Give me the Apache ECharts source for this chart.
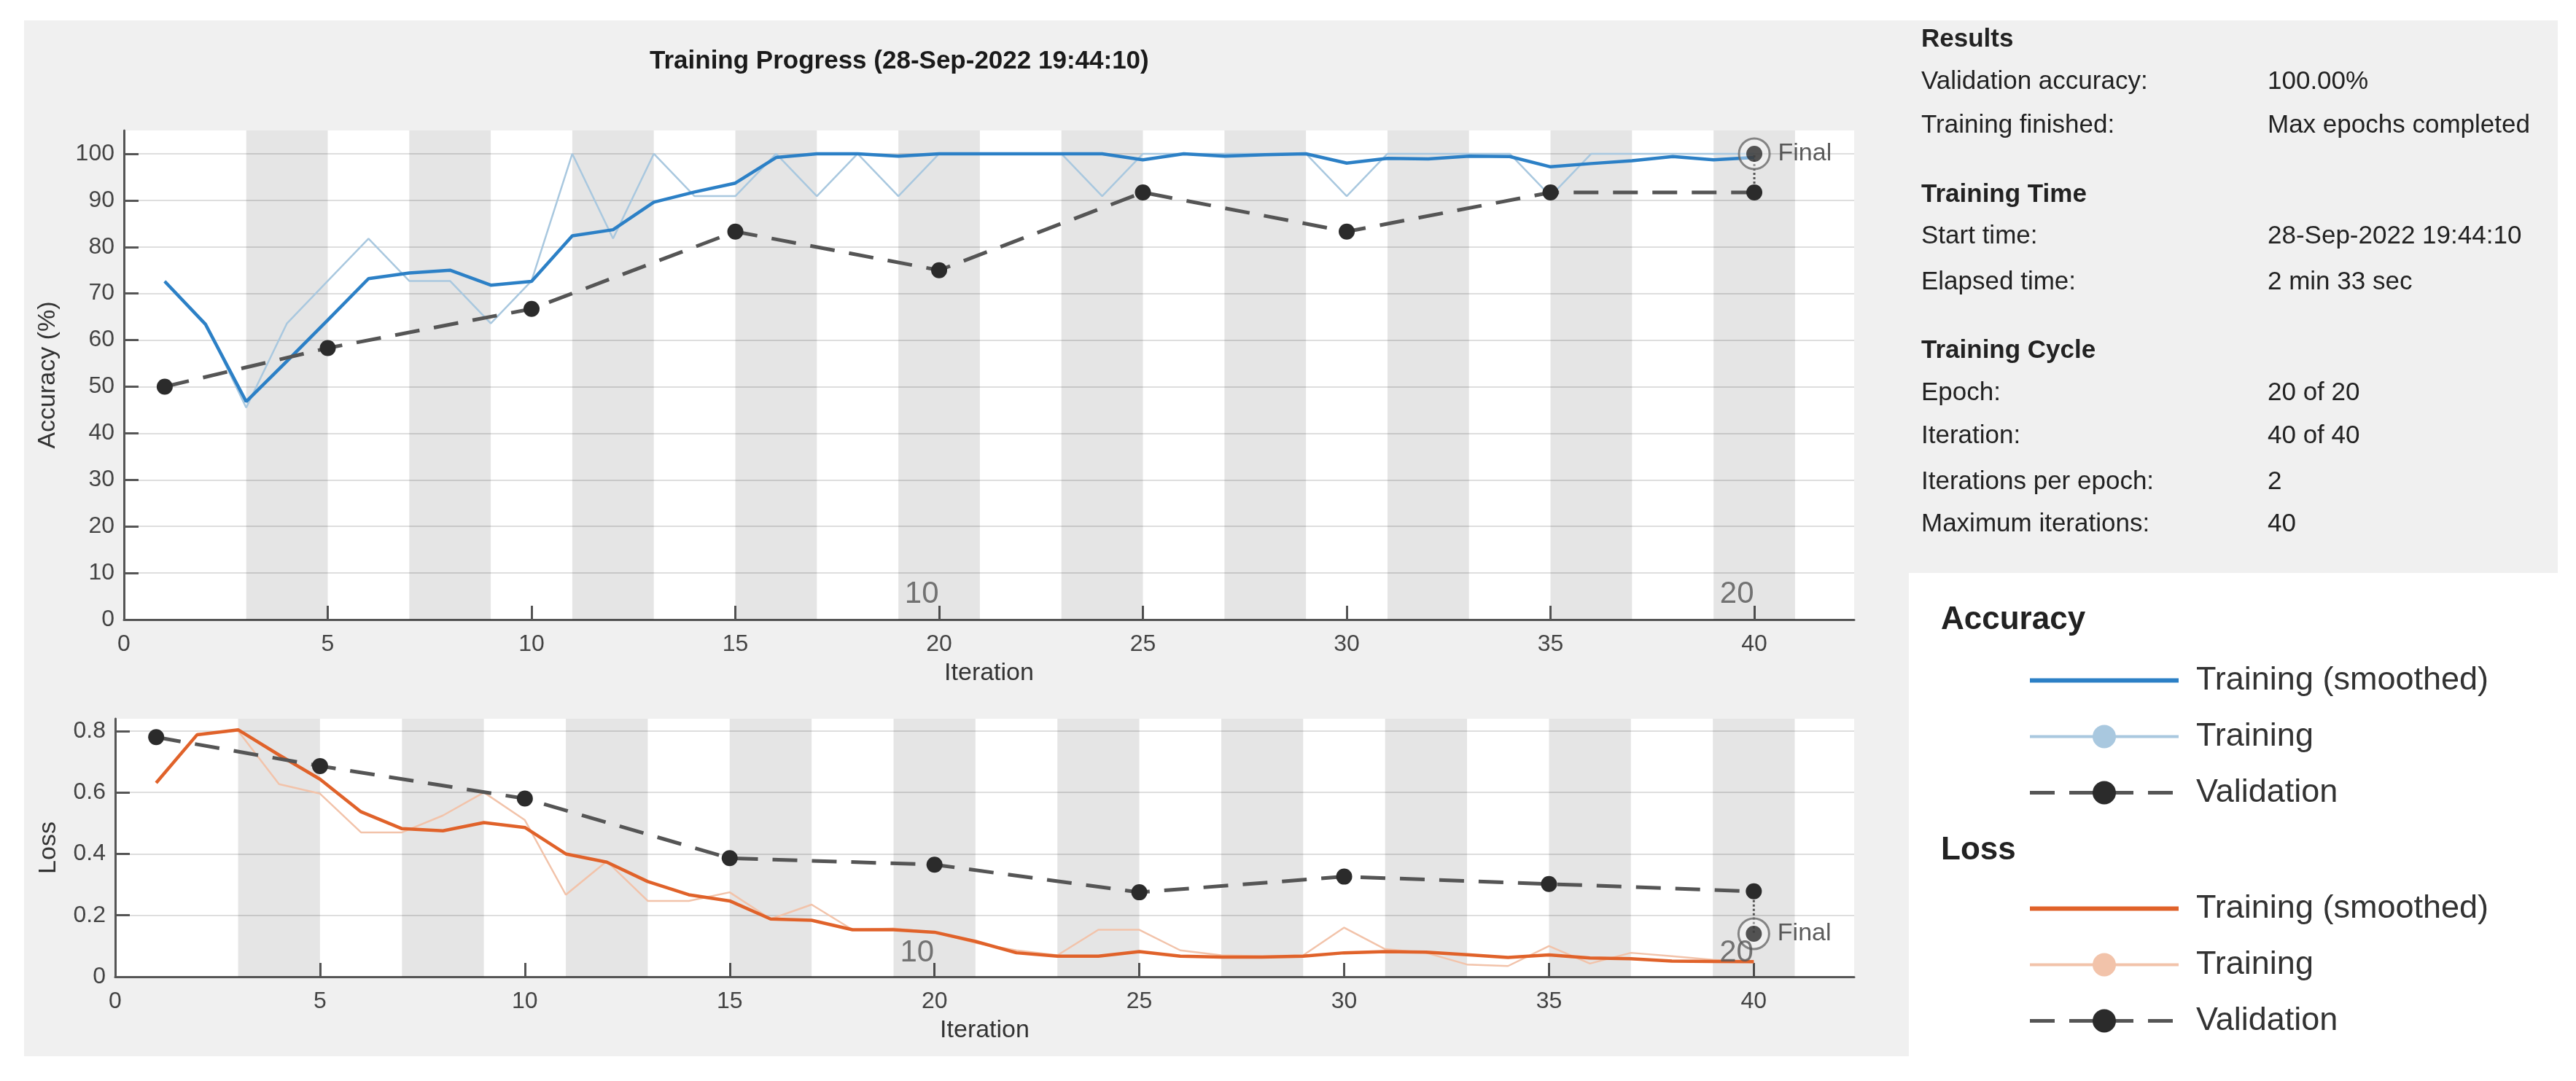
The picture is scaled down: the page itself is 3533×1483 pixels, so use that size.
<!DOCTYPE html>
<html>
<head>
<meta charset="utf-8">
<script src="https://cdn.jsdelivr.net/npm/echarts@6/dist/echarts.min.js"></script>
<style>
  html, body { margin: 0; padding: 0; background: #fff; }
  #chart { width: 3533px; height: 1483px; }
</style>
</head>
<body>
<div id="chart"></div>
<script>
// Training progress data
const iterations = Array.from({length: 40}, (_, i) => i + 1);

const accSmoothed = [72.6, 63.4, 46.8, 55.5, 64.3, 73.2, 74.4, 75.0, 71.8, 72.6,
                     82.4, 83.7, 89.6, 91.8, 93.7, 99.2, 100, 100, 99.5, 100,
                     100, 100, 100, 100, 98.7, 100, 99.5, 99.8, 100, 98.0,
                     99.0, 98.9, 99.5, 99.4, 97.2, 97.9, 98.5, 99.4, 98.7, 99.2];
const accTraining = [72.7, 63.6, 45.5, 63.6, 72.7, 81.8, 72.7, 72.7, 63.6, 72.7,
                     100, 81.8, 100, 90.9, 90.9, 100, 90.9, 100, 90.9, 100,
                     100, 100, 100, 90.9, 100, 100, 100, 100, 100, 90.9,
                     100, 100, 100, 100, 90.9, 100, 100, 100, 100, 100];
const valIterations = [1, 5, 10, 15, 20, 25, 30, 35, 40];
const accValidation = [50, 58.3, 66.7, 83.3, 75, 91.7, 83.3, 91.7, 91.7];
const accFinal = 100;

const lossSmoothed = [0.631, 0.788, 0.804, 0.722, 0.643, 0.537, 0.482, 0.475, 0.502, 0.486,
                      0.400, 0.373, 0.310, 0.267, 0.247, 0.188, 0.184, 0.153, 0.153, 0.145,
                      0.115, 0.078, 0.067, 0.067, 0.082, 0.067, 0.064, 0.064, 0.067, 0.078,
                      0.082, 0.080, 0.072, 0.063, 0.071, 0.061, 0.059, 0.051, 0.050, 0.049];
const lossTraining = [0.631, 0.790, 0.800, 0.627, 0.596, 0.470, 0.470, 0.525, 0.600, 0.510,
                      0.267, 0.376, 0.247, 0.247, 0.275, 0.188, 0.235, 0.153, 0.157, 0.145,
                      0.110, 0.086, 0.070, 0.153, 0.153, 0.086, 0.070, 0.067, 0.070, 0.160,
                      0.090, 0.078, 0.040, 0.035, 0.100, 0.043, 0.078, 0.067, 0.055, 0.047];
const lossValidation = [0.780, 0.686, 0.580, 0.386, 0.365, 0.275, 0.326, 0.302, 0.278];
const lossFinal = 0.14;

// shaded epochs (every other epoch, 2 iterations each)
const bandStarts = [3, 7, 11, 15, 19, 23, 27, 31, 35, 39];
const epochEnds = [20, 40];
const epochNumbers = [10, 20];

const resultRows = [
    ['Results', '', true],
    ['Validation accuracy:', '100.00%', false],
    ['Training finished:', 'Max epochs completed', false],
    ['Training Time', '', true],
    ['Start time:', '28-Sep-2022 19:44:10', false],
    ['Elapsed time:', '2 min 33 sec', false],
    ['Training Cycle', '', true],
    ['Epoch:', '20 of 20', false],
    ['Iteration:', '40 of 40', false],
    ['Iterations per epoch:', '2', false],
    ['Maximum iterations:', '40', false]
];
const resultRowY = [55, 113, 173, 268, 325, 388, 482, 540, 599, 662, 720];

const legendLabels = {
    accSmooth: 'Training (smoothed)', accTrain: 'Training', accVal: 'Validation',
    lossSmooth: 'Training (smoothed)', lossTrain: 'Training', lossVal: 'Validation'
};

const FONT = '"Liberation Sans", Arial, Helvetica, sans-serif';
const pairs = (xs, ys) => ys.map((v, i) => [xs[i], v]);

const chart = echarts.init(document.getElementById('chart'));

// gray window panels, title and the results texts
const graphics = [
    {type: 'rect', z: -10, silent: true, shape: {x: 33, y: 28, width: 3475, height: 758}, style: {fill: '#f0f0f0'}},
    {type: 'rect', z: -10, silent: true, shape: {x: 33, y: 786, width: 2585, height: 663}, style: {fill: '#f0f0f0'}},
    {type: 'text', left: 891, top: 67, style: {text: 'Training Progress (28-Sep-2022 19:44:10)', font: 'bold 35px ' + FONT, fill: '#1a1a1a'}},
    {type: 'text', left: 2662, top: 829, style: {text: 'Accuracy', font: 'bold 44px ' + FONT, fill: '#222'}},
    {type: 'text', left: 2662, top: 1145, style: {text: 'Loss', font: 'bold 44px ' + FONT, fill: '#222'}}
];
resultRows.forEach((row, i) => {
    graphics.push({type: 'text', left: 2635, top: resultRowY[i] - 18,
        style: {text: row[0], font: (row[2] ? 'bold ' : '') + '35px ' + FONT, fill: '#222'}});
    if (row[1]) {
        graphics.push({type: 'text', left: 3110, top: resultRowY[i] - 18,
            style: {text: row[1], font: '35px ' + FONT, fill: '#222'}});
    }
});

function xAxisFor(gridIndex) {
    return {
        type: 'value', gridIndex: gridIndex, min: 0, max: 42.45, interval: 5,
        name: 'Iteration', nameLocation: 'middle', nameGap: 57, nameMoveOverlap: false,
        nameTextStyle: {fontSize: 34, color: '#333', fontFamily: FONT},
        axisLine: {show: true, lineStyle: {color: '#555', width: 3}},
        axisTick: {show: true, inside: true, length: 19, lineStyle: {color: '#555', width: 3}},
        axisLabel: {fontSize: 32, color: '#444', fontFamily: FONT, margin: 18, showMaxLabel: false},
        splitLine: {show: false}
    };
}

function yAxisFor(gridIndex, name, max, interval, gap) {
    return {
        type: 'value', gridIndex: gridIndex, min: 0, max: max, interval: interval,
        name: name, nameLocation: 'middle', nameGap: gap, nameMoveOverlap: false,
        nameTextStyle: {fontSize: 34, color: '#333', fontFamily: FONT},
        axisLine: {show: true, lineStyle: {color: '#555', width: 3}},
        axisTick: {show: true, inside: true, length: 20, lineStyle: {color: '#555', width: 3}},
        axisLabel: {fontSize: 32, color: '#444', fontFamily: FONT, margin: 13, showMaxLabel: false},
        splitLine: {show: true, showMinLine: false, showMaxLine: false, lineStyle: {color: '#dedede', width: 2}}
    };
}

const bandData = bandStarts.map(s => [{xAxis: s}, {xAxis: s + 2}]);

function panelSeries(axisIndex, ids, smooth, train, val, finalVal, colors, epochOffset) {
    const lastIter = iterations[iterations.length - 1];
    return [
        {
            name: ids[1], type: 'line', xAxisIndex: axisIndex, yAxisIndex: axisIndex,
            data: pairs(iterations, train), symbol: 'circle', showSymbol: false,
            lineStyle: {color: colors.light, width: 2.5}, itemStyle: {color: colors.light},
            z: 2, silent: true,
            markArea: {silent: true, itemStyle: {color: 'rgba(0,0,0,0.1)'}, data: bandData}
        },
        {
            name: ids[0], type: 'line', xAxisIndex: axisIndex, yAxisIndex: axisIndex,
            data: pairs(iterations, smooth), symbol: 'circle', showSymbol: false,
            lineStyle: {color: colors.dark, width: 4.5}, itemStyle: {color: colors.dark},
            z: 3, silent: true
        },
        {
            name: ids[2], type: 'line', xAxisIndex: axisIndex, yAxisIndex: axisIndex,
            data: pairs(valIterations, val), symbol: 'circle', symbolSize: 22,
            lineStyle: {color: '#555', width: 5, type: [34, 20]}, itemStyle: {color: '#2b2b2b'},
            z: 4, silent: true
        },
        {
            // dotted link from the last validation point to the final one
            type: 'line', xAxisIndex: axisIndex, yAxisIndex: axisIndex,
            data: [[lastIter, val[val.length - 1]], [lastIter, finalVal]],
            symbol: 'none', lineStyle: {color: '#555', width: 3, type: 'dotted'}, z: 4, silent: true
        },
        {
            type: 'scatter', xAxisIndex: axisIndex, yAxisIndex: axisIndex,
            data: [[lastIter, finalVal]], symbol: 'circle', symbolSize: 42,
            itemStyle: {color: 'rgba(255,255,255,0.5)', borderColor: '#6a6a6a', borderWidth: 3},
            label: {show: true, position: 'right', distance: 10, formatter: 'Final',
                    fontSize: 34, color: '#333', fontFamily: FONT},
            z: 5, silent: true
        },
        {
            type: 'scatter', xAxisIndex: axisIndex, yAxisIndex: axisIndex,
            data: [[lastIter, finalVal]], symbol: 'circle', symbolSize: 22,
            itemStyle: {color: '#2b2b2b'}, z: 6, silent: true
        },
        {
            // epoch numbers near the x axis
            type: 'scatter', xAxisIndex: axisIndex, yAxisIndex: axisIndex,
            data: epochEnds.map(x => [x, 0]),
            symbolSize: 1, itemStyle: {color: 'rgba(0,0,0,0)'}, clip: false,
            label: {show: true, position: 'left', distance: 0, offset: [0, epochOffset],
                    formatter: p => String(epochNumbers[p.dataIndex]),
                    fontSize: 42, color: '#555', fontFamily: FONT},
            z: 5, silent: true
        }
    ];
}

const legendCommon = {
    orient: 'vertical', left: 2776, itemWidth: 204, itemHeight: 40, itemGap: 32,
    selectedMode: false, formatter: n => legendLabels[n],
    textStyle: {fontSize: 45, color: '#333', fontFamily: FONT, padding: [0, 0, 0, 19], lineHeight: 40}
};

function legendItems(ids) {
    return [
        {name: ids[0], itemStyle: {opacity: 0}, lineStyle: {width: 6}},
        {name: ids[1], lineStyle: {width: 4}},
        {name: ids[2], lineStyle: {width: 5}}
    ];
}

const option = {
    animation: false,
    textStyle: {fontFamily: FONT},
    graphic: graphics,
    grid: [
        {left: 170, right: 990, top: 179, bottom: 633, show: true, backgroundColor: '#fff', borderWidth: 0, outerBoundsMode: 'none'},
        {left: 158, right: 990, top: 986, bottom: 143, show: true, backgroundColor: '#fff', borderWidth: 0, outerBoundsMode: 'none'}
    ],
    xAxis: [xAxisFor(0), xAxisFor(1)],
    yAxis: [
        yAxisFor(0, 'Accuracy (%)', 105, 10, 87),
        yAxisFor(1, 'Loss', 0.84, 0.2, 74)
    ],
    legend: [
        Object.assign({}, legendCommon, {top: 906, data: legendItems(['accSmooth', 'accTrain', 'accVal'])}),
        Object.assign({}, legendCommon, {top: 1219, data: legendItems(['lossSmooth', 'lossTrain', 'lossVal'])})
    ],
    series: [].concat(
        panelSeries(0, ['accSmooth', 'accTrain', 'accVal'], accSmoothed, accTraining, accValidation, accFinal,
            {dark: '#2c80c6', light: '#a9c8df'}, -35),
        panelSeries(1, ['lossSmooth', 'lossTrain', 'lossVal'], lossSmoothed, lossTraining, lossValidation, lossFinal,
            {dark: '#e0622a', light: '#f2c3aa'}, -33)
    )
};

chart.setOption(option);
</script>
</body>
</html>
